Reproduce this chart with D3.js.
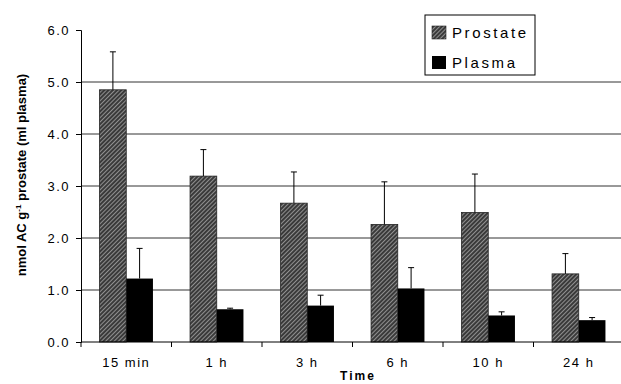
<!DOCTYPE html>
<html>
<head>
<meta charset="utf-8">
<script src="https://d3js.org/d3.v7.min.js"></script>
<style>
html, body { margin: 0; background: #fff; }
text { font-family: "Liberation Sans", Arial, sans-serif; }
</style>
</head>
<body>
<div id="chart"></div>
<script>
// data
var times = ["15 min", "1 h", "3 h", "6 h", "10 h", "24 h"];
var prostate = [4.85, 3.19, 2.67, 2.26, 2.49, 1.31];
var prostateErr = [0.73, 0.51, 0.60, 0.82, 0.74, 0.39];
var plasma = [1.22, 0.63, 0.70, 1.03, 0.51, 0.42];
var plasmaErr = [0.58, 0.02, 0.20, 0.40, 0.07, 0.05];
var yTicks = [0, 1, 2, 3, 4, 5, 6];
var series = ["Prostate", "Plasma"];

var W = 621, H = 384;
var margin = {top: 30, right: -3, bottom: 42, left: 81};
var width = W - margin.left - margin.right,
    height = H - margin.top - margin.bottom;

var svg = d3.select("#chart").append("svg")
    .attr("width", W).attr("height", H);

var defs = svg.append("defs");
var pat = defs.append("pattern")
    .attr("id", "hatch")
    .attr("patternUnits", "userSpaceOnUse")
    .attr("width", 3).attr("height", 3)
    .attr("patternTransform", "rotate(45)");
pat.append("rect").attr("width", 3).attr("height", 3).attr("fill", "#3a3a3a");
pat.append("line").attr("x1", 0).attr("y1", 0).attr("x2", 0).attr("y2", 3)
    .attr("stroke", "#d8d8d8").attr("stroke-width", 1.1);

var g = svg.append("g")
    .attr("transform", "translate(" + margin.left + "," + margin.top + ")");

var x = d3.scaleBand().domain(times).range([0, width]).paddingInner(0).paddingOuter(0);
var x1 = d3.scaleBand().domain(series).range([x.bandwidth() * 0.205, x.bandwidth() * 0.795]);
var y = d3.scaleLinear().domain([0, 6]).range([height, 0]);

// gridlines
g.selectAll(".grid").data(yTicks.filter(function(d) { return d > 0 && d < 6; }))
  .enter().append("line")
    .attr("x1", 0).attr("x2", width)
    .attr("y1", function(d) { return y(d); })
    .attr("y2", function(d) { return y(d); })
    .attr("stroke", "#333").attr("stroke-width", 1);

// bars
var groups = g.selectAll(".grp").data(times).enter().append("g")
    .attr("transform", function(d) { return "translate(" + x(d) + ",0)"; });

groups.append("rect")
    .attr("x", x1("Prostate"))
    .attr("width", x1.bandwidth())
    .attr("y", function(d, i) { return y(prostate[i]); })
    .attr("height", function(d, i) { return height - y(prostate[i]); })
    .attr("fill", "url(#hatch)").attr("stroke", "#222").attr("stroke-width", 0.8);

groups.append("rect")
    .attr("x", x1("Plasma"))
    .attr("width", x1.bandwidth())
    .attr("y", function(d, i) { return y(plasma[i]); })
    .attr("height", function(d, i) { return height - y(plasma[i]); })
    .attr("fill", "#000");

// error bars (upper only)
function errBar(name, vals, errs) {
  var cx = x1(name) + x1.bandwidth() / 2;
  groups.append("line")
    .attr("x1", cx).attr("x2", cx)
    .attr("y1", function(d, i) { return y(vals[i]); })
    .attr("y2", function(d, i) { return y(vals[i] + errs[i]); })
    .attr("stroke", "#000").attr("stroke-width", 1);
  groups.append("line")
    .attr("x1", cx - 3).attr("x2", cx + 3)
    .attr("y1", function(d, i) { return y(vals[i] + errs[i]); })
    .attr("y2", function(d, i) { return y(vals[i] + errs[i]); })
    .attr("stroke", "#000").attr("stroke-width", 1);
}
errBar("Prostate", prostate, prostateErr);
errBar("Plasma", plasma, plasmaErr);

// y axis
var yAxis = g.append("g")
    .call(d3.axisLeft(y).tickValues(yTicks).tickFormat(d3.format(".1f")).tickSize(5).tickPadding(6));
yAxis.select(".domain").attr("stroke", "#000");
yAxis.selectAll("text").attr("font-size", 13).attr("fill", "#000")
    .attr("letter-spacing", 1.5);

// x axis
var xAxis = g.append("g").attr("transform", "translate(0," + height + ")");
xAxis.append("line").attr("x1", 0).attr("x2", width).attr("stroke", "#000");
xAxis.selectAll(".tk").data(times).enter().append("line")
    .attr("x1", function(d) { return x(d); }).attr("x2", function(d) { return x(d); })
    .attr("y1", 0).attr("y2", 5).attr("stroke", "#000");
xAxis.selectAll(".lbl").data(times).enter().append("text")
    .attr("x", function(d) { return x(d) + x.bandwidth() / 2; })
    .attr("y", 25)
    .attr("text-anchor", "middle")
    .attr("font-size", 13).attr("letter-spacing", 1.5)
    .text(function(d) { return d; });

// axis titles
g.append("text")
    .attr("x", 277).attr("y", height + 38)
    .attr("text-anchor", "middle")
    .attr("font-size", 12).attr("font-weight", "bold").attr("letter-spacing", 2)
    .text("Time");

var yl = svg.append("text")
    .attr("transform", "translate(26,175) rotate(-90)")
    .attr("text-anchor", "middle")
    .attr("font-size", 13).attr("font-weight", "bold");
yl.append("tspan").text("nmol AC g");
yl.append("tspan").attr("dy", -5).attr("font-size", 8).text("-1");
yl.append("tspan").attr("dy", 5).text(" prostate (ml plasma)");

// legend
var leg = svg.append("g").attr("transform", "translate(425,15)");
leg.append("rect").attr("width", 110).attr("height", 60)
    .attr("fill", "#fff").attr("stroke", "#000").attr("stroke-width", 1);
leg.append("rect").attr("x", 7).attr("y", 11).attr("width", 14).attr("height", 13)
    .attr("fill", "url(#hatch)").attr("stroke", "#222").attr("stroke-width", 0.6);
leg.append("rect").attr("x", 7).attr("y", 41).attr("width", 14).attr("height", 13)
    .attr("fill", "#000");
leg.selectAll(".lt").data(series).enter().append("text")
    .attr("x", 27)
    .attr("y", function(d, i) { return 23 + i * 30; })
    .attr("font-size", 15).attr("letter-spacing", 2.6)
    .text(function(d) { return d; });
</script>
</body>
</html>
